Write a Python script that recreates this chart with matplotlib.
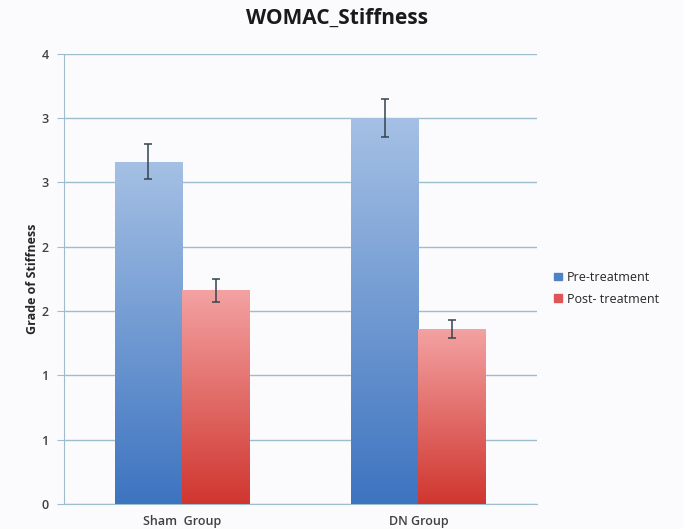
import numpy as np
import matplotlib
matplotlib.use('Agg')
import matplotlib.pyplot as plt
from matplotlib.colors import LinearSegmentedColormap

# Datos
groups = ['Sham  Group', 'DN Group']
series = ['Pre-treatment', 'Post- treatment']
pre_vals = [2.66, 3.00]
pre_err = [0.135, 0.15]
post_vals = [1.66, 1.36]
post_err = [0.087, 0.071]
yticks = [0, 0.5, 1, 1.5, 2, 2.5, 3, 3.5]
ytick_labels = ['0', '1', '1', '2', '2', '3', '3', '4']

plt.rcParams['font.family'] = ['Open Sans', 'DejaVu Sans']

bg = '#fbfbfd'
grid_c = '#9dbccc'
text_c = '#404040'

fig = plt.figure(figsize=(6.83, 5.29), dpi=100, facecolor=bg)
ax = fig.add_axes([0.0937, 0.0473, 0.692, 0.851], facecolor=bg)

x = np.arange(len(groups))
w = 0.285

blue_cmap = LinearSegmentedColormap.from_list('b', ['#3d74c0', '#a5c0e4'])
red_cmap = LinearSegmentedColormap.from_list('r', ['#d0362f', '#f3a2a2'])

bars_pre = ax.bar(x - w / 2, pre_vals, w, color='#4f81c7', label=series[0], zorder=2)
bars_post = ax.bar(x + w / 2, post_vals, w, color='#e05555', label=series[1], zorder=2)

# Relleno degradado dentro de cada barra
grad = np.linspace(0, 1, 256).reshape(-1, 1)
for bars, cmap in [(bars_pre, blue_cmap), (bars_post, red_cmap)]:
    for b in bars:
        bx, by = b.get_x(), b.get_y()
        bw, bh = b.get_width(), b.get_height()
        im = ax.imshow(grad, cmap=cmap, origin='lower', aspect='auto',
                       extent=[bx, bx + bw, by, by + bh], zorder=3)
        im.set_clip_path(b)
        b.set_facecolor('none')

ax.errorbar(x - w / 2, pre_vals, yerr=pre_err, fmt='none', ecolor='#34444f',
            elinewidth=1.1, capsize=3, capthick=1.1, zorder=4)
ax.errorbar(x + w / 2, post_vals, yerr=post_err, fmt='none', ecolor='#34444f',
            elinewidth=1.1, capsize=3, capthick=1.1, zorder=4)

ax.set_xlim(-0.5, 1.5)
ax.set_ylim(0, 3.5)
ax.set_yticks(yticks)
ax.set_yticklabels(ytick_labels)
ax.set_xticks(x)
ax.set_xticklabels(groups)
ax.yaxis.grid(True, color=grid_c, linewidth=1.0, zorder=0)
ax.set_axisbelow(True)

for s in ['top', 'right']:
    ax.spines[s].set_visible(False)
ax.spines['left'].set_color(grid_c)
ax.spines['bottom'].set_color(grid_c)
ax.tick_params(axis='y', length=5, color=grid_c, labelsize=9, labelcolor=text_c, pad=6)
ax.tick_params(axis='x', length=0, labelsize=9, labelcolor=text_c, pad=8)
for lab in ax.get_xticklabels() + ax.get_yticklabels():
    lab.set_fontweight('semibold')

ax.set_ylabel('Grade of Stiffness', fontsize=9, fontweight='bold', color='#262626', labelpad=2)
fig.suptitle('WOMAC_Stiffness', x=0.494, y=0.985, fontsize=15, fontweight='bold',
             color='#1a1a1a')

handles = [plt.Rectangle((0, 0), 1, 1, color='#4f81c7'),
           plt.Rectangle((0, 0), 1, 1, color='#e05555')]
leg = fig.legend(handles, series, loc='center left', bbox_to_anchor=(0.795, 0.455),
                 frameon=False, fontsize=9, handlelength=0.6, handleheight=0.6,
                 handletextpad=0.4, labelspacing=0.7)
for t in leg.get_texts():
    t.set_color('#262626')

fig.savefig('out.png', dpi=100, facecolor=bg)
